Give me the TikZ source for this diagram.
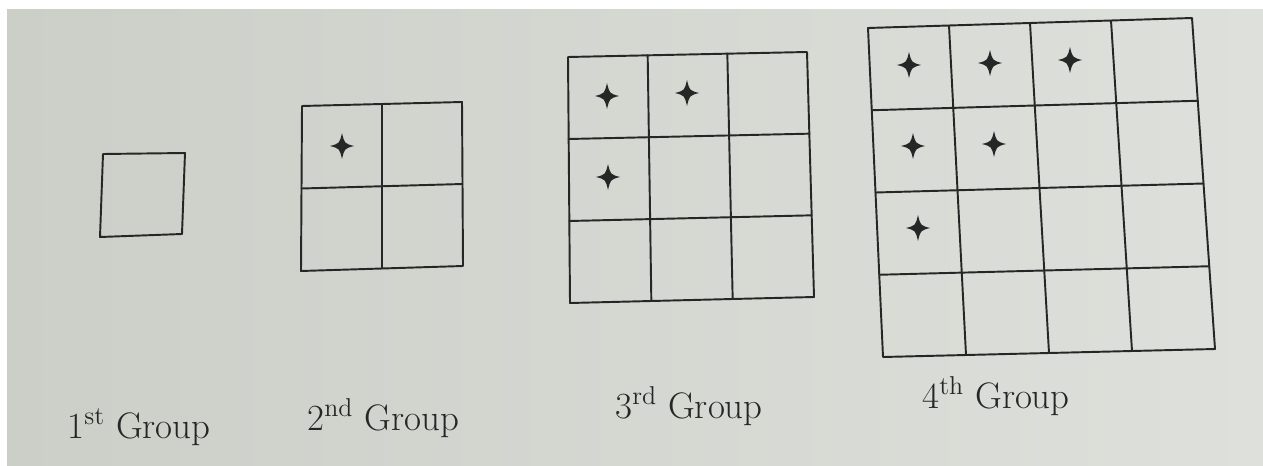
\documentclass[tikz,border=0pt]{standalone}
\usetikzlibrary{calc}
\definecolor{pageL}{RGB}{204,206,200}
\definecolor{pageR}{RGB}{222,224,219}
\definecolor{ink}{RGB}{38,38,38}
\tikzset{
  gridline/.style={draw=ink, line width=1.1pt, line cap=round, line join=round},
  lbl/.style={anchor=base west, text=ink, font=\fontsize{21}{24}\selectfont, inner sep=0pt},
  star4/.pic={\fill[ink] (0,13) .. controls (2.5,2.5) .. (12,0) .. controls (2.5,-2.5) .. (0,-13) .. controls (-2.5,-2.5) .. (-12,0) .. controls (-2.5,2.5) .. (0,13);}
}
\newcommand{\quadgrid}[5]{% n, TL, TR, BL, BR
  \coordinate (qTL) at #2; \coordinate (qTR) at #3;
  \coordinate (qBL) at #4; \coordinate (qBR) at #5;
  \draw[gridline] (qTL) -- (qTR) -- (qBR) -- (qBL) -- cycle;
  \ifnum#1>1
  \foreach \i in {1,...,\numexpr#1-1\relax}{
    \draw[gridline] ($(qTL)!\i/#1!(qTR)$) -- ($(qBL)!\i/#1!(qBR)$);
    \draw[gridline] ($(qTL)!\i/#1!(qBL)$) -- ($(qTR)!\i/#1!(qBR)$);
  }
  \fi
}
\begin{document}
\begin{tikzpicture}[x=0.02cm,y=-0.02cm]
\useasboundingbox (0,0) rectangle (1263,466);
\fill[white] (0,0) rectangle (1263,466);
\shade[left color=pageL, right color=pageR] (7,10) rectangle (1263,466);
% grids
\quadgrid{1}{(103,154)}{(185,153)}{(100,237)}{(182,234)}
\quadgrid{2}{(302,106)}{(462,102)}{(301,271)}{(463,266)}
\quadgrid{3}{(568,57)}{(807,52)}{(570,303)}{(814,297)}
\quadgrid{4}{(868,28)}{(1192,18)}{(883,357)}{(1215,349)}
% stars
\pic at (342,146) {star4};
\pic at (607,96) {star4};
\pic at (687,93) {star4};
\pic at (608,177) {star4};
\pic at (909,65) {star4};
\pic at (990,63) {star4};
\pic at (1070,60) {star4};
\pic at (913,146) {star4};
\pic at (994,144) {star4};
\pic at (918,228) {star4};
% labels
\node[lbl] (g1) at (67,438) {1\textsuperscript{st} Group};
\node[lbl] (g2) at (307,430) {2\textsuperscript{nd} Group};
\node[lbl] (g3) at (615,418) {3\textsuperscript{rd} Group};
\node[lbl] (g4) at (922,408) {4\textsuperscript{th} Group};
\end{tikzpicture}
\end{document}
